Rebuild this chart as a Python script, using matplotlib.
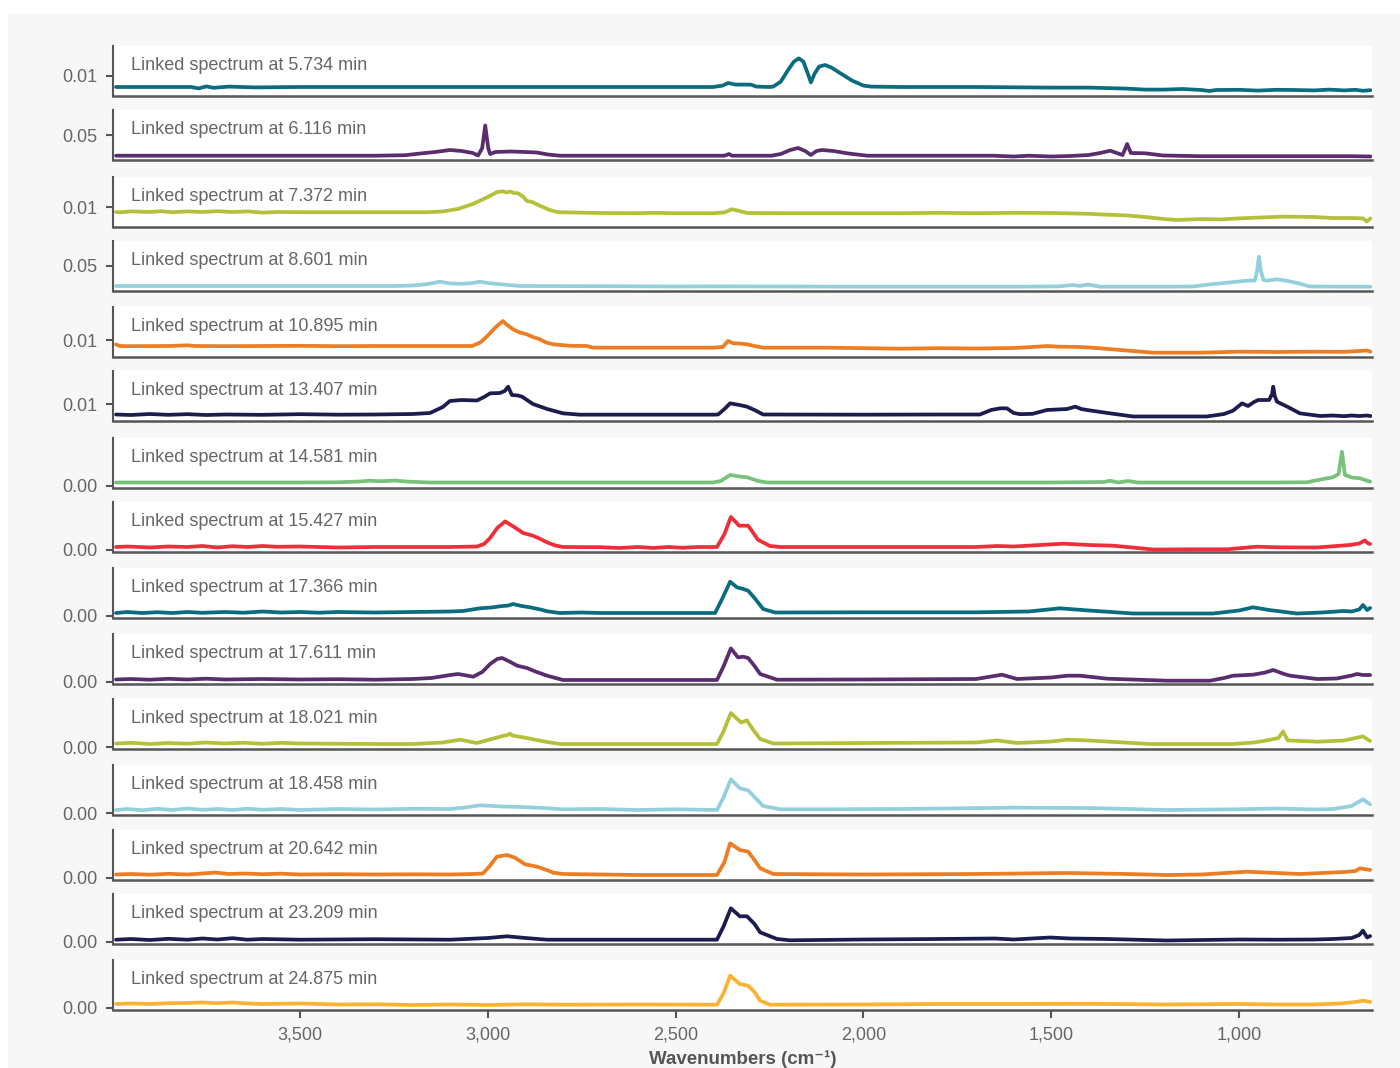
import numpy as np
import matplotlib
matplotlib.use('Agg')
import matplotlib.pyplot as plt
from matplotlib.patches import Rectangle
from matplotlib.ticker import FormatStrFormatter, FuncFormatter

plt.rcParams['font.family'] = ['Liberation Sans', 'DejaVu Sans']

# retention times of the linked spectra
times = ['5.734', '6.116', '7.372', '8.601', '10.895', '13.407', '14.581', '15.427',
         '17.366', '17.611', '18.021', '18.458', '20.642', '23.209', '24.875']
colors = ['#0b6c7f', '#5a2d6e', '#b3c13a', '#93d0dc', '#ec7d22', '#1c1c4e', '#78c27c', '#ee2e38',
          '#0b6c7f', '#5a2d6e', '#b3c13a', '#93d0dc', '#ec7d22', '#1c1c4e', '#f8b334']
ytick_vals = [0.01, 0.05, 0.01, 0.05, 0.01, 0.01, 0.0, 0.0, 0.0, 0.0, 0.0, 0.0, 0.0, 0.0, 0.0]
ylims = [(0, 0.025), (0, 0.1), (0, 0.025), (0, 0.1), (0, 0.03), (0, 0.03)] + [(-0.002, 0.048)] * 9
xticks = [3500, 3000, 2500, 2000, 1500, 1000]

# (wavenumber, absorbance)
s01 = [(3990, .0045), (3900, .0045), (3790, .0045), (3770, .0038), (3750, .0048), (3730, .0041), (3690, .0047),
       (3620, .0043), (3500, .0045), (3300, .0045), (3100, .0045), (2800, .0045), (2400, .0045), (2375, .0052),
       (2360, .0065), (2340, .0057), (2300, .0057), (2285, .0047), (2250, .0045), (2240, .0047), (2220, .0072),
       (2200, .0132), (2185, .0172), (2172, .0188), (2160, .0172), (2148, .0112), (2140, .0068), (2130, .0112),
       (2118, .0147), (2102, .0155), (2085, .0142), (2060, .0112), (2030, .0077), (2000, .0052), (1980, .0047),
       (1900, .0045), (1700, .0045), (1500, .0042), (1400, .0042), (1300, .0037), (1250, .0032), (1200, .0032),
       (1150, .0035), (1100, .0030), (1080, .0025), (1060, .0030), (1000, .0031), (950, .0027), (900, .0031),
       (850, .0030), (800, .0028), (760, .0032), (720, .0028), (690, .0031), (670, .0026), (650, .0029)]
s02 = [(3990, .0086), (3800, .0086), (3500, .0086), (3300, .0086), (3220, .0096), (3180, .013), (3140, .016),
       (3101, .020), (3070, .018), (3040, .014), (3026, .009), (3015, .024), (3007, .069), (2999, .024),
       (2994, .012), (2980, .016), (2940, .017), (2900, .016), (2870, .015), (2840, .011), (2808, .0086),
       (2600, .0086), (2370, .0086), (2358, .012), (2350, .0086), (2245, .0086), (2220, .012), (2195, .020),
       (2174, .024), (2155, .018), (2140, .010), (2125, .018), (2110, .020), (2080, .018), (2040, .013),
       (1990, .0086), (1700, .0086), (1655, .0086), (1600, .0070), (1560, .0086), (1500, .0070), (1450, .0080),
       (1400, .010), (1370, .014), (1343, .0186), (1310, .010), (1298, .032), (1288, .014), (1250, .0134),
       (1202, .009), (1100, .0076), (900, .0076), (700, .0076), (650, .0070)]
s03 = [(3990, .0075), (3980, .0073), (3950, .0078), (3900, .0075), (3870, .0079), (3840, .0074), (3800, .0078),
       (3760, .0075), (3720, .0079), (3680, .0075), (3640, .0078), (3600, .0072), (3560, .0075), (3500, .0074),
       (3300, .0074), (3160, .0074), (3119, .0078), (3080, .0090), (3040, .0115), (3000, .0150), (2975, .0175),
       (2960, .0178), (2950, .0173), (2940, .0177), (2930, .0170), (2920, .0169), (2905, .0150), (2896, .0130),
       (2882, .0125), (2860, .0105), (2835, .0085), (2813, .0074), (2700, .0070), (2600, .0069), (2560, .0071),
       (2500, .0069), (2400, .0069), (2370, .0073), (2350, .0089), (2330, .0080), (2310, .0070), (2200, .0069),
       (1900, .0069), (1800, .0071), (1700, .0069), (1600, .0071), (1500, .0070), (1400, .0066), (1370, .0063),
       (1300, .0058), (1250, .0050), (1200, .0040), (1165, .0035), (1100, .0040), (1050, .0038), (1000, .0043),
       (950, .0047), (883, .0052), (800, .0050), (750, .0045), (700, .0045), (670, .0043), (660, .0027),
       (650, .0043)]
s04 = [(3990, .010), (3500, .010), (3250, .010), (3200, .011), (3160, .014), (3127, .0186), (3100, .015),
       (3070, .0144), (3040, .016), (3021, .0186), (3000, .016), (2960, .013), (2914, .010), (2700, .0096),
       (2500, .009), (2400, .0092), (2200, .009), (2000, .0086), (1800, .0086), (1600, .0086), (1480, .0092),
       (1442, .012), (1425, .010), (1402, .013), (1370, .0086), (1200, .0086), (1122, .009), (1080, .013),
       (1040, .016), (1000, .019), (979, .0206), (958, .021), (952, .040), (947, .0686), (942, .040), (935, .022),
       (926, .0206), (899, .0234), (870, .020), (840, .015), (811, .009), (700, .0086), (650, .0086)]
s05 = [(3990, .0075), (3980, .0066), (3960, .0065), (3850, .0066), (3800, .0070), (3780, .0066), (3700, .0065),
       (3600, .0066), (3500, .0067), (3400, .0065), (3300, .0066), (3100, .0066), (3042, .0066), (3020, .0087),
       (3000, .0129), (2980, .0177), (2960, .0216), (2950, .0195), (2933, .0166), (2915, .0147), (2896, .0136),
       (2880, .0120), (2861, .0106), (2845, .0087), (2826, .0076), (2780, .0067), (2736, .0066), (2720, .0056),
       (2600, .0056), (2400, .0056), (2375, .0060), (2360, .0096), (2347, .0082), (2330, .0081), (2310, .0076),
       (2290, .0066), (2267, .0056), (2100, .0056), (1902, .0050), (1800, .0053), (1700, .0051), (1600, .0054),
       (1550, .0060), (1511, .0066), (1480, .0062), (1423, .0060), (1380, .0054), (1300, .0039), (1229, .0026),
       (1100, .0026), (1050, .0029), (1000, .0032), (900, .0030), (800, .0032), (720, .0031), (680, .0036),
       (660, .0039), (650, .0032)]
s06 = [(3990, .0039), (3950, .0036), (3900, .0042), (3850, .0037), (3800, .0041), (3750, .0036), (3700, .0039),
       (3600, .0037), (3500, .0041), (3400, .0038), (3300, .0039), (3200, .0042), (3154, .0048), (3120, .0084),
       (3101, .0120), (3070, .0126), (3029, .0123), (3010, .0144), (2994, .0166), (2968, .0168), (2955, .0180),
       (2946, .0206), (2936, .0156), (2920, .0153), (2909, .0146), (2880, .0102), (2842, .0072), (2800, .0046),
       (2755, .0038), (2600, .0038), (2400, .0038), (2387, .0039), (2370, .0072), (2355, .0106), (2330, .0096),
       (2310, .0086), (2290, .0066), (2267, .0039), (2000, .0038), (1800, .0039), (1690, .0039), (1660, .0066),
       (1636, .0076), (1618, .0076), (1600, .0048), (1583, .0041), (1550, .0043), (1511, .0066), (1458, .0072),
       (1436, .0086), (1420, .0072), (1405, .0066), (1350, .0048), (1282, .0027), (1200, .0027), (1086, .0027),
       (1040, .0042), (1016, .0062), (992, .0106), (976, .0090), (960, .0114), (949, .0126), (920, .0126),
       (912, .0162), (909, .0206), (905, .0150), (899, .0116), (870, .0084), (838, .0046), (784, .0030),
       (750, .0033), (720, .0029), (700, .0033), (680, .0030), (660, .0033), (650, .0030)]
s07 = [(3990, .0035), (3500, .0035), (3400, .0037), (3340, .0045), (3314, .0053), (3290, .0048), (3270, .0050),
       (3247, .0055), (3220, .0045), (3154, .0035), (2500, .0035), (2400, .0035), (2380, .0050), (2355, .0110),
       (2330, .0095), (2310, .0087), (2280, .0050), (2257, .0035), (1500, .0035), (1360, .0040), (1343, .0053),
       (1322, .0035), (1296, .0050), (1270, .0035), (900, .0035), (819, .0037), (790, .0060), (750, .0087),
       (735, .0120), (726, .0343), (718, .0110), (700, .0085), (678, .0077), (651, .0043)]
s08 = [(3990, .0030), (3960, .0035), (3900, .0025), (3850, .0035), (3800, .0030), (3760, .0040), (3720, .0025),
       (3680, .0038), (3640, .0030), (3600, .0040), (3560, .0032), (3500, .0035), (3450, .0030), (3400, .0025),
       (3300, .0030), (3100, .0030), (3029, .0035), (3010, .0060), (2994, .0120), (2975, .0220), (2954, .0286),
       (2930, .0230), (2906, .0170), (2880, .0143), (2860, .0110), (2842, .0076), (2820, .0045), (2800, .0030),
       (2700, .0028), (2650, .0020), (2600, .0030), (2560, .0020), (2520, .0030), (2480, .0022), (2440, .0030),
       (2390, .0030), (2370, .0160), (2353, .0330), (2340, .0280), (2331, .0243), (2307, .0243), (2295, .0180),
       (2281, .0103), (2249, .0040), (2222, .0030), (2000, .0030), (1700, .0030), (1644, .0040), (1600, .0035),
       (1468, .0063), (1400, .0050), (1335, .0043), (1229, .0005), (1100, .0007), (1032, .0007), (952, .0033),
       (900, .0027), (792, .0025), (740, .0040), (705, .0050), (680, .0065), (665, .0096), (658, .0070),
       (651, .0060)]
s09 = [(3990, .0030), (3960, .0040), (3920, .0030), (3880, .0038), (3840, .0030), (3800, .0040), (3760, .0032),
       (3700, .0040), (3650, .0033), (3600, .0045), (3550, .0035), (3500, .0040), (3450, .0033), (3400, .0040),
       (3300, .0035), (3200, .0040), (3100, .0045), (3066, .0050), (3021, .0077), (2990, .0085), (2968, .0097),
       (2945, .0105), (2933, .0120), (2910, .0100), (2888, .0087), (2860, .0065), (2842, .0047), (2808, .0030),
       (2750, .0035), (2700, .0030), (2600, .0030), (2395, .0030), (2375, .0180), (2355, .0343), (2337, .0287),
       (2320, .0270), (2307, .0253), (2290, .0180), (2267, .0070), (2235, .0035), (2000, .0037), (1700, .0037),
       (1560, .0045), (1477, .0077), (1400, .0055), (1282, .0025), (1069, .0025), (1000, .0055), (963, .0087),
       (920, .0060), (846, .0025), (780, .0035), (740, .0045), (723, .0050), (700, .0045), (680, .0065),
       (670, .0110), (659, .0060), (651, .0080)]
s10 = [(3990, .0025), (3950, .0030), (3900, .0023), (3850, .0032), (3800, .0025), (3750, .0033), (3700, .0025),
       (3600, .0030), (3500, .0025), (3400, .0028), (3300, .0023), (3200, .0030), (3150, .0040), (3100, .0070),
       (3079, .0080), (3039, .0053), (3015, .0100), (2994, .0180), (2975, .0230), (2962, .0240), (2940, .0200),
       (2922, .0163), (2896, .0140), (2870, .0100), (2842, .0063), (2800, .0020), (2600, .0020), (2390, .0020),
       (2372, .0160), (2353, .0336), (2334, .0246), (2320, .0253), (2307, .0240), (2290, .0160), (2275, .0080),
       (2230, .0023), (2000, .0025), (1700, .0030), (1631, .0073), (1591, .0030), (1500, .0045), (1458, .0063),
       (1423, .0063), (1351, .0033), (1192, .0013), (1077, .0013), (1040, .0040), (1016, .0063), (963, .0073),
       (930, .0095), (909, .0120), (880, .0080), (864, .0063), (792, .0030), (740, .0035), (700, .0065),
       (686, .0080), (670, .0070), (651, .0070)]
s11 = [(3990, .0035), (3950, .0042), (3900, .0030), (3850, .0040), (3800, .0033), (3750, .0045), (3700, .0035),
       (3650, .0043), (3600, .0032), (3550, .0042), (3500, .0035), (3300, .0030), (3200, .0030), (3120, .0045),
       (3074, .0073), (3029, .0040), (2990, .0080), (2960, .0110), (2945, .0123), (2941, .0135), (2935, .0115),
       (2896, .0090), (2870, .0070), (2842, .0050), (2808, .0030), (2600, .0030), (2390, .0030), (2372, .0160),
       (2353, .0340), (2326, .0246), (2310, .0266), (2295, .0180), (2275, .0080), (2240, .0035), (2000, .0040),
       (1700, .0045), (1644, .0066), (1591, .0040), (1500, .0055), (1458, .0073), (1405, .0066), (1237, .0030),
       (1016, .0030), (960, .0045), (926, .0066), (895, .0090), (883, .0156), (870, .0066), (792, .0053),
       (720, .0065), (690, .0090), (670, .0106), (651, .0060)]
s12 = [(3990, .0030), (3960, .0040), (3920, .0028), (3880, .0042), (3840, .0030), (3800, .0045), (3760, .0032),
       (3720, .0040), (3680, .0030), (3640, .0043), (3600, .0032), (3550, .0040), (3500, .0030), (3400, .0040),
       (3300, .0035), (3200, .0042), (3100, .0040), (3060, .0055), (3021, .0077), (2960, .0065), (2914, .0060),
       (2850, .0050), (2800, .0037), (2700, .0040), (2600, .0030), (2500, .0037), (2390, .0030), (2372, .0160),
       (2353, .0337), (2329, .0247), (2307, .0227), (2290, .0160), (2267, .0070), (2222, .0037), (2100, .0037),
       (1900, .0040), (1600, .0053), (1400, .0050), (1192, .0030), (1000, .0037), (900, .0045), (800, .0035),
       (750, .0040), (700, .0070), (670, .0137), (651, .0087)]
s13 = [(3990, .0035), (3950, .0040), (3900, .0033), (3850, .0042), (3800, .0035), (3760, .0045), (3726, .0055),
       (3690, .0040), (3650, .0045), (3600, .0038), (3550, .0043), (3500, .0035), (3400, .0038), (3300, .0035),
       (3200, .0037), (3100, .0035), (3040, .0040), (3013, .0045), (2995, .0120), (2976, .0213), (2949, .0230),
       (2928, .0203), (2901, .0137), (2869, .0113), (2840, .0075), (2826, .0053), (2800, .0040), (2700, .0035),
       (2600, .0030), (2390, .0030), (2370, .0160), (2355, .0347), (2329, .0280), (2307, .0263), (2290, .0180),
       (2275, .0097), (2240, .0040), (2000, .0035), (1700, .0040), (1458, .0050), (1300, .0040), (1192, .0030),
       (1100, .0035), (979, .0063), (900, .0050), (838, .0040), (780, .0050), (720, .0060), (690, .0070),
       (678, .0097), (651, .0080)]
s14 = [(3990, .0023), (3950, .0030), (3900, .0020), (3850, .0032), (3800, .0023), (3760, .0035), (3720, .0025),
       (3680, .0038), (3640, .0023), (3600, .0030), (3500, .0023), (3300, .0028), (3100, .0023), (3000, .0040),
       (2949, .0057), (2900, .0040), (2842, .0023), (2700, .0023), (2390, .0023), (2372, .0160), (2353, .0337),
       (2329, .0257), (2310, .0257), (2290, .0180), (2275, .0097), (2230, .0030), (2195, .0017), (2000, .0025),
       (1800, .0030), (1650, .0035), (1600, .0025), (1503, .0045), (1450, .0035), (1350, .0030), (1192, .0015),
       (1100, .0020), (1000, .0025), (900, .0023), (800, .0025), (750, .0030), (700, .0040), (680, .0070),
       (670, .0113), (659, .0045), (651, .0060)]
s15 = [(3990, .0040), (3950, .0045), (3900, .0040), (3850, .0048), (3800, .0050), (3760, .0055), (3720, .0048),
       (3680, .0055), (3640, .0045), (3600, .0040), (3500, .0045), (3400, .0035), (3300, .0037), (3200, .0030),
       (3100, .0035), (3000, .0030), (2900, .0037), (2800, .0033), (2600, .0035), (2390, .0033), (2372, .0150),
       (2355, .0323), (2329, .0240), (2307, .0223), (2290, .0160), (2275, .0073), (2249, .0033), (2000, .0035),
       (1800, .0040), (1600, .0040), (1400, .0042), (1200, .0035), (1000, .0040), (900, .0035), (800, .0035),
       (730, .0045), (690, .0060), (670, .0073), (651, .0060)]
spectra = [s01, s02, s03, s04, s05, s06, s07, s08, s09, s10, s11, s12, s13, s14, s15]

W, H = 1400, 1068
fig = plt.figure(figsize=(W / 100, H / 100), dpi=100, facecolor='white')
fig.add_artist(Rectangle((8 / W, 0), 1 - 8 / W, 1 - 13 / H, transform=fig.transFigure,
                         facecolor='#f7f7f7', edgecolor='none', zorder=0))

grey = '#555555'
txt = '#666666'
# bottom edge (px from top) of each panel
panel_bottoms = [96, 160, 227, 291, 357, 421, 488, 552, 618, 684, 749, 815, 880, 944, 1010]
left_px, right_px, panel_h = 113, 1372, 50

for i, spec in enumerate(spectra):
    wn = [p[0] for p in spec]
    ab = [p[1] for p in spec]
    ax = fig.add_axes([left_px / W, 1 - panel_bottoms[i] / H, (right_px - left_px) / W, panel_h / H])
    ax.set_facecolor('white')
    ax.plot(wn, ab, color=colors[i], lw=2.7, solid_joinstyle='round', solid_capstyle='round')
    ax.set_xlim(3998, 646)
    ax.set_ylim(*ylims[i])
    for s in ['top', 'right']:
        ax.spines[s].set_visible(False)
    ax.spines['left'].set_color(grey)
    ax.spines['left'].set_linewidth(1.5)
    ax.spines['bottom'].set_color(grey)
    ax.spines['bottom'].set_linewidth(1.8)
    ax.set_yticks([ytick_vals[i]])
    ax.yaxis.set_major_formatter(FormatStrFormatter('%.2f'))
    ax.tick_params(axis='y', length=5, width=1.5, color=grey, labelsize=13, labelcolor=txt, pad=6)
    ax.text(0.0143, 0.61, f'Linked spectrum at {times[i]} min', transform=ax.transAxes,
            color=txt, fontsize=13, va='center', ha='left')
    if i == len(spectra) - 1:
        ax.set_xticks(xticks)
        ax.xaxis.set_major_formatter(FuncFormatter(lambda v, p: f'{v:,.0f}'))
        ax.tick_params(axis='x', length=6, width=1.5, color=grey, labelsize=13, labelcolor=txt, pad=6)
    else:
        ax.set_xticks([])

fig.text((left_px + right_px) / 2 / W, 1 - 1059 / H, 'Wavenumbers (cm\u207b\u00b9)', ha='center', va='center',
         fontsize=13.5, fontweight='bold', color=grey)

fig.savefig('out.png', dpi=100, facecolor=fig.get_facecolor())
